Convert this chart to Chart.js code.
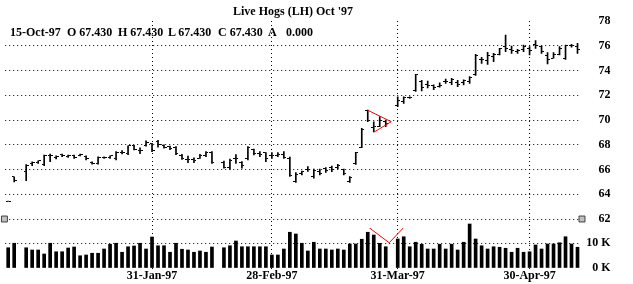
<!DOCTYPE html>
<html>
<head>
<meta charset="utf-8">
<script src="https://cdn.jsdelivr.net/npm/chart.js@4.4.0/dist/chart.umd.min.js"></script>
<style>
  html, body { margin: 0; padding: 0; background: #fff; }
  #wrap { position: relative; width: 633px; height: 284px; }
  #wrap canvas { position: absolute; left: 0; top: 0; }
  .txt { position: absolute; font: bold 12px 'Liberation Serif', 'Times New Roman', serif; line-height: 12px; color: #000; white-space: pre; }
</style>
</head>
<body>
<div id="wrap">
  <canvas id="hogs" width="633" height="284"></canvas>
  <div class="txt" style="left:233px;top:5px">Live Hogs (LH) Oct '97</div>
  <div class="txt" style="left:10px;top:26px">15-Oct-97</div>
  <div class="txt" style="left:67px;top:26px">O 67.430</div>
  <div class="txt" style="left:118px;top:26px">H 67.430</div>
  <div class="txt" style="left:168px;top:26px">L 67.430</div>
  <div class="txt" style="left:218px;top:26px">C 67.430</div>
  <div class="txt" style="left:268px;top:26px">A</div>
  <div class="txt" style="left:286px;top:26px">0.000</div>
</div>
<script>
// trading days (weekdays) from 30-Dec-96, holidays left empty
const firstDay = '1996-12-30';
const dayCount = 96;
const tickLabels = ['31-Jan-97', '28-Feb-97', '31-Mar-97', '30-Apr-97'];
const priceTicks = [62, 64, 66, 68, 70, 72, 74, 76, 78];
const volumeTicks = [0, 10];

const opens = [
  63.45, 65.40, null, 65.80, 66.50, 66.55, 66.40, 67.10, 66.95, 67.20,
  67.05, 67.10, 67.10, 67.05, 66.55, 66.50, 66.95, 67.00, 66.90, 67.40,
  67.30, 67.90, 67.50, 67.95, 68.10, 68.30, 67.95, 67.85, 67.75, 67.10,
  66.80, 66.80, 66.90, 67.10, 67.40, null, 66.60, 66.20, 66.85, 66.60,
  66.90, 67.60, 67.30, 67.35, 67.10, 67.10, 67.20, 66.90, 65.00, 65.70,
  66.00, 65.40, 65.80, 66.10, 66.20, 66.20, 66.00, 65.00, 66.50, 67.80,
  70.75, 69.40, 69.50, 69.90, null, 71.20, 71.50, 71.80, 72.40, 73.10,
  72.90, 72.80, 72.70, 73.10, 73.00, 73.00, 73.00, 73.10, 73.70, 74.90,
  74.80, 75.10, 75.30, 75.90, 75.70, 75.50, 75.70, 75.80, 76.10, 75.90,
  75.20, 75.00, 75.30, 75.00, 76.00, 75.90
];
const highs = [
  63.45, 65.40, null, 66.40, 66.63, 66.71, 67.17, 67.25, 67.10, 67.25,
  67.17, 67.17, 67.25, 67.10, 66.63, 67.03, 67.03, 67.11, 67.44, 67.52,
  67.92, 67.95, 67.75, 68.32, 68.12, 68.35, 68.00, 67.90, 67.85, 67.23,
  67.09, 66.95, 67.23, 67.44, 67.44, null, 66.69, 66.85, 67.20, 66.65,
  67.85, 67.66, 67.44, 67.36, 67.36, 67.36, 67.44, 67.00, 65.75, 65.88,
  66.23, 66.04, 66.04, 66.15, 66.28, 66.42, 66.04, 65.42, 67.39, 69.33,
  70.81, 69.86, 70.27, 70.00, null, 71.88, 71.88, 71.88, 73.70, 73.20,
  73.15, 72.85, 73.00, 73.30, 73.36, 73.20, 73.25, 73.50, 75.30, 75.07,
  75.47, 75.39, 75.79, 76.87, 75.98, 75.71, 76.06, 75.93, 76.41, 75.98,
  75.44, 75.44, 75.93, 76.06, 76.12, 76.20
];
const lows = [
  63.45, 65.00, null, 65.10, 66.30, 66.50, 66.30, 66.63, 66.85, 67.03,
  66.98, 66.90, 67.09, 66.77, 66.44, 66.44, 66.90, 66.90, 66.77, 67.25,
  67.20, 67.58, 67.28, 67.88, 67.44, 67.80, 67.72, 67.60, 67.20, 66.82,
  66.55, 66.55, 66.90, 67.03, 66.50, null, 66.10, 66.00, 66.50, 66.10,
  66.77, 67.17, 67.03, 66.63, 66.90, 67.03, 66.90, 65.45, 64.96, 65.56,
  65.85, 65.29, 65.56, 65.77, 65.82, 66.04, 65.56, 64.96, 66.42, 67.76,
  69.86, 69.05, 69.46, 69.46, null, 71.07, 71.35, 71.75, 72.30, 72.35,
  72.60, 72.45, 72.65, 72.96, 72.85, 72.70, 72.83, 72.96, 73.60, 74.58,
  74.50, 74.71, 75.25, 75.52, 75.39, 75.39, 75.52, 75.25, 75.79, 75.39,
  74.53, 74.99, 75.25, 74.90, 75.88, 75.39
];
const closes = [
  63.45, 65.10, null, 66.30, 66.60, 66.70, 67.15, 67.10, 67.05, 67.10,
  67.10, 67.00, 67.20, 66.85, 66.50, 66.95, 67.00, 67.10, 67.40, 67.35,
  67.90, 67.65, 67.50, 68.20, 67.50, 68.00, 67.80, 67.70, 67.30, 66.90,
  66.80, 66.75, 67.10, 67.40, 66.55, null, 66.20, 66.75, 66.85, 66.30,
  67.80, 67.30, 67.20, 66.90, 67.10, 67.20, 67.00, 65.50, 65.60, 65.80,
  66.00, 65.95, 65.70, 65.90, 66.00, 66.30, 65.70, 65.35, 67.35, 69.25,
  70.00, 69.50, 70.00, 69.70, null, 71.60, 71.80, 71.85, 73.65, 72.60,
  72.80, 72.60, 72.75, 73.10, 73.30, 72.90, 73.20, 73.45, 75.20, 74.90,
  75.20, 75.30, 75.75, 75.80, 75.60, 75.60, 75.90, 75.60, 76.00, 75.50,
  74.90, 75.30, 75.80, 76.00, 76.00, 75.70
];
// volume in thousands of contracts
const volumes = [
  8.1, 9.9, null, 8.1, 7.2, 7.2, 5.6, 9.9, 6.5, 6.5,
  8.0, 8.4, 4.9, 5.2, 5.9, 5.9, 7.6, 9.5, 9.9, 6.3,
  8.5, 8.8, 9.9, 7.6, 12.4, 8.9, 8.9, 6.3, 9.9, 7.5,
  7.2, 6.3, 6.8, 6.3, 8.4, null, 8.1, 8.9, 10.8, 8.5,
  8.5, 8.5, 8.5, 8.5, 5.2, 5.2, 7.6, 14.3, 13.6, 9.9,
  6.8, 10.3, 7.6, 7.6, 7.2, 7.6, 7.2, 9.6, 9.6, 11.5,
  14.3, 13.2, 9.9, 8.5, null, 11.6, 12.5, 8.5, 10.3, 9.5,
  7.6, 7.6, 9.5, 7.6, 9.5, 7.2, 10.3, 17.6, 11.6, 8.9,
  7.6, 8.5, 8.3, 7.9, 6.3, 7.9, 6.3, 6.5, 9.2, 7.6,
  9.6, 9.6, 10.1, 12.5, 9.6, 8.3
];

// hand-drawn red marks, in (day index, price) and (day index, volume K)
const pennant = [{x: 59.92, y: 70.81}, {x: 63.92, y: 69.86}, {x: 60.97, y: 69.0}];
const volumeVee = [{x: 59.87, y: 16.8}, {x: 63.58, y: 10.1}, {x: 66.08, y: 16.4}];
const scrollMarks = [{x: -0.63, y: 62}, {x: 95.75, y: 62}];

const MONTHS = ['Jan','Feb','Mar','Apr','May','Jun','Jul','Aug','Sep','Oct','Nov','Dec'];
const dates = [];
{
  const d = new Date(firstDay + 'T00:00:00Z');
  while (dates.length < dayCount) {
    const wd = d.getUTCDay();
    if (wd !== 0 && wd !== 6) {
      dates.push(d.getUTCDate() + '-' + MONTHS[d.getUTCMonth()] + '-' + String(d.getUTCFullYear()).slice(2));
    }
    d.setUTCDate(d.getUTCDate() + 1);
  }
}
const tickIdx = tickLabels.map(l => dates.indexOf(l));

const ranges = highs.map((h, i) => (h == null ? null : [lows[i], h]));

const tickImage = (side) => {
  const c = document.createElement('canvas');
  c.width = 5; c.height = 1;
  const g = c.getContext('2d');
  g.fillStyle = '#000';
  g.fillRect(side === 'left' ? 0 : 3, 0, 2, 1);
  return c;
};

const font = { family: "'Liberation Serif', 'Times New Roman', serif", size: 12, weight: 'bold' };
const dotted = [1, 3];

// keep the y axes from pushing the plot area around
const fixYAxis = (s) => { s.width = 30; s.paddingTop = 0; s.paddingBottom = 0; };

new Chart(document.getElementById('hogs'), {
  type: 'bar',
  data: {
    labels: dates,
    datasets: [
      { type: 'line', data: pennant, xAxisID: 'xl', yAxisID: 'y', borderColor: '#ff0000', borderWidth: 1, pointRadius: 0, fill: false },
      { type: 'line', data: volumeVee, xAxisID: 'xl', yAxisID: 'yv', borderColor: '#ff0000', borderWidth: 1, pointRadius: 0, fill: false },
      { type: 'line', data: scrollMarks, xAxisID: 'xl', yAxisID: 'y', showLine: false, pointStyle: 'rect', pointRadius: 4.2,
        backgroundColor: '#c0c0c0', borderColor: '#404040', pointBorderWidth: 1, clip: false },
      { type: 'line', data: opens, yAxisID: 'y', showLine: false, pointStyle: tickImage('left'), pointRadius: 2 },
      { type: 'line', data: closes, yAxisID: 'y', showLine: false, pointStyle: tickImage('right'), pointRadius: 2 },
      { data: ranges, yAxisID: 'y', backgroundColor: '#000', barThickness: 1, grouped: false },
      { data: volumes, yAxisID: 'yv', backgroundColor: '#000', barThickness: 3, grouped: false, clip: false }
    ]
  },
  options: {
    responsive: false,
    animation: false,
    events: [],
    // 6px per trading day, bar centres on half pixels so the strokes stay sharp
    layout: { padding: { left: 4.5, top: 21, right: 22.5, bottom: 0 } },
    plugins: { legend: { display: false }, tooltip: { enabled: false } },
    scales: {
      x: {
        type: 'category',
        offset: true,
        afterBuildTicks: (s) => { s.ticks = s.ticks.filter(t => tickIdx.includes(t.value)); },
        afterFit: (s) => { s.height = 16; },
        grid: { offset: false, color: '#000', lineWidth: 1, drawTicks: true, tickLength: 4, tickColor: '#000', tickBorderDash: dotted },
        border: { display: false, dash: dotted },
        ticks: { autoSkip: false, maxRotation: 0, minRotation: 0, padding: -2, color: '#000', font: { ...font, lineHeight: 1 } }
      },
      xl: { type: 'linear', display: false, offset: false, min: -0.5, max: 95.5 },
      y: {
        type: 'linear',
        position: 'right',
        stack: 'panes',
        stackWeight: 207,
        min: 61.273,
        max: 78,
        afterBuildTicks: (s) => { s.ticks = priceTicks.map(v => ({ value: v })); },
        afterFit: fixYAxis,
        grid: { color: (c) => (c.tick && c.tick.value < 77 ? '#000' : 'rgba(0,0,0,0)'), drawTicks: false },
        border: { display: false, dash: dotted },
        ticks: { autoSkip: false, crossAlign: 'far', padding: 0, color: '#000', font }
      },
      yv: {
        type: 'linear',
        position: 'right',
        stack: 'panes',
        stackWeight: 40,
        min: 0,
        max: 16,
        afterBuildTicks: (s) => { s.ticks = volumeTicks.map(v => ({ value: v })); },
        afterFit: fixYAxis,
        grid: { color: (c) => (c.tick && c.tick.value > 0 ? '#000' : 'rgba(0,0,0,0)'), drawTicks: false },
        border: { display: false, dash: dotted },
        ticks: { autoSkip: false, crossAlign: 'far', padding: 0, color: '#000', font, callback: (v) => v + ' K' }
      }
    }
  }
});
</script>
</body>
</html>
